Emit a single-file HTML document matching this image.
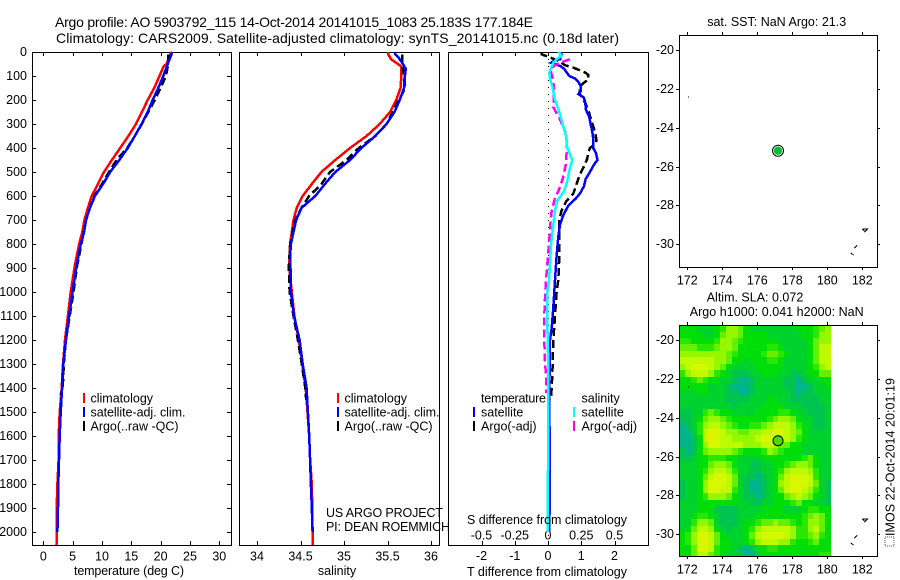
<!DOCTYPE html>
<html>
<head>
<meta charset="utf-8">
<title>Argo profile 5903792_115</title>
<style>
html,body{margin:0;padding:0;background:#fff;}
#fig{display:block;width:900px;height:580px;}
text{font-family:"Liberation Sans",Arial,sans-serif;font-size:12.5px;fill:#000;}
.t{font-size:14px;}
</style>
</head>
<body>
<svg id="fig" xmlns="http://www.w3.org/2000/svg" width="900" height="580" viewBox="0 0 900 580">
  <rect width="900" height="580" fill="#fff"/>
  <g id="marks"></g>

  <text class="t" x="55" y="27" textLength="478" lengthAdjust="spacing">Argo profile: AO 5903792_115 14-Oct-2014 20141015_1083 25.183S 177.184E</text>
  <text class="t" x="56" y="43" textLength="563" lengthAdjust="spacing">Climatology: CARS2009. Satellite-adjusted climatology: synTS_20141015.nc (0.18d later)</text>

  <text x="129" y="575" text-anchor="middle" textLength="110" lengthAdjust="spacing">temperature (deg C)</text>
  <text x="337" y="575" text-anchor="middle">salinity</text>
  <text x="547" y="576" text-anchor="middle" textLength="160" lengthAdjust="spacing">T difference from climatology</text>
  <text x="547" y="524" text-anchor="middle" textLength="160" lengthAdjust="spacing">S difference from climatology</text>

  <g>
    <rect x="83" y="393" width="2" height="10" fill="#f00"/>
    <rect x="83" y="407" width="2" height="10" fill="#00f"/>
    <rect x="83" y="421" width="2" height="10" fill="#000"/>
    <text x="90.5" y="402.5">climatology</text>
    <text x="90.5" y="416.5" textLength="95" lengthAdjust="spacing">satellite-adj. clim.</text>
    <text x="90.5" y="430.5" textLength="88" lengthAdjust="spacing">Argo(..raw -QC)</text>
  </g>
  <g>
    <rect x="337" y="393" width="2" height="10" fill="#f00"/>
    <rect x="337" y="407" width="2" height="10" fill="#00f"/>
    <rect x="337" y="421" width="2" height="10" fill="#000"/>
    <text x="344.5" y="402.5">climatology</text>
    <text x="344.5" y="416.5" textLength="95" lengthAdjust="spacing">satellite-adj. clim.</text>
    <text x="344.5" y="430.5" textLength="88" lengthAdjust="spacing">Argo(..raw -QC)</text>
  </g>
  <g>
    <text x="481" y="402.5" textLength="65" lengthAdjust="spacing">temperature</text>
    <rect x="473" y="407" width="2" height="10" fill="#00f"/>
    <rect x="473" y="421" width="2" height="10" fill="#000"/>
    <text x="481" y="416.5">satellite</text>
    <text x="481" y="430.5">Argo(-adj)</text>
    <text x="581.5" y="402.5">salinity</text>
    <rect x="573" y="407" width="2" height="10" fill="#0ff"/>
    <rect x="573" y="421" width="2" height="10" fill="#f0f"/>
    <text x="581.5" y="416.5">satellite</text>
    <text x="581.5" y="430.5">Argo(-adj)</text>
  </g>

  <text x="326" y="517" textLength="117" lengthAdjust="spacing">US ARGO PROJECT</text>
  <text x="326" y="531" textLength="124" lengthAdjust="spacing">PI: DEAN ROEMMICH</text>

  <text x="776.7" y="26" text-anchor="middle">sat. SST: NaN Argo: 21.3</text>
  <text x="755" y="301.5" text-anchor="middle">Altim. SLA: 0.072</text>
  <text x="776.7" y="316" text-anchor="middle" textLength="174" lengthAdjust="spacing">Argo h1000: 0.041 h2000: NaN</text>

  <rect x="885" y="537" width="9" height="9" fill="none" stroke="#555" stroke-width="1" stroke-dasharray="1 1" shape-rendering="crispEdges"/>
  <text transform="translate(894.5,536) rotate(-90)" textLength="158" lengthAdjust="spacing">IMOS 22-Oct-2014 20:01:19</text>
</svg>

<script>
// ---- depth ticks
const depthTicks = [0,100,200,300,400,500,600,700,800,900,1000,1100,1200,1300,1400,1500,1600,1700,1800,1900,2000];
const tempTicks = [0,5,10,15,20,25,30];
const salTicks = [34,34.5,35,35.5,36];
const salTickLabels = ['34','34.5','35','35.5','36'];
const tDiffTicks = [-2,-1,0,1,2];
const tDiffTickLabels = ['-2','-1','0','1','2'];
const sDiffTicks = [-0.5,-0.25,0,0.25,0.5];
const sDiffTickLabels = ['-0.5','-0.25','0','0.25','0.5'];
const lonTicks = [172,174,176,178,180,182];
const latTicks = [-20,-22,-24,-26,-28,-30];

// ---- temperature panel
const tempClimDepth = [0,50,60,100,150,200,250,300,350,400,450,500,550,600,650,700,750,800,850,900,950,1000,1100,1200,1300,1400,1500,1600,1700,1800,1900,2000,2054];
const tempClim = [21.8,21.0,20.5,19.8,18.9,17.8,16.8,15.8,14.5,13.1,11.7,10.35,9.3,8.25,7.6,7.0,6.65,6.1,5.7,5.3,5.0,4.67,4.2,3.7,3.36,3.13,2.8,2.62,2.6,2.4,2.28,2.28,2.25];
const tempSatDepth = [0,50,100,150,200,250,300,350,400,450,500,550,600,650,700,750,800,850,900,1000,1100,1200,1300,1400,1500,1600,1700,1800,1900,2000];
const tempSat = [22,21.2,20.45,19.6,18.65,17.8,16.75,15.6,14.4,12.95,11.4,10.2,8.8,7.95,7.3,6.95,6.4,6,5.6,5.0,4.4,3.87,3.4,3.2,2.96,2.8,2.68,2.56,2.5,2.4];
const tempArgoDepth = [10,50,100,150,200,250,300,350,400,450,500,550,600,650,700,800,900,1000,1100,1200,1300,1400,1430];
const tempArgo = [21.3,21.3,20.9,20,19,17.9,16.8,15.6,14.3,12.5,11.2,10,8.7,7.95,7.3,6.5,5.7,5.15,4.5,3.85,3.5,3.3,2.95];

// ---- salinity panel
const salClimDepth = [0,10,30,50,60,100,150,200,250,300,350,400,450,500,550,600,650,700,750,800,900,1000,1100,1200,1300,1400,1500,1600,1700,1800,1900,2054];
const salClim = [35.51,35.51,35.54,35.62,35.655,35.66,35.65,35.6,35.53,35.41,35.26,35.07,34.9,34.74,34.63,34.525,34.456,34.42,34.4,34.38,34.37,34.40,34.43,34.48,34.52,34.56,34.58,34.6,34.61,34.63,34.635,34.64];
const salSatDepth = [0,10,20,40,70,100,150,200,250,300,350,400,450,500,550,600,650,700,750,800,850,900,1000,1100,1200,1300,1400,1500,1600,1700,1800,1900,2000];
const salSat = [35.58,35.59,35.62,35.66,35.71,35.70,35.69,35.64,35.58,35.49,35.36,35.2,35.07,34.9,34.78,34.67,34.51,34.45,34.42,34.39,34.38,34.385,34.39,34.425,34.49,34.525,34.57,34.585,34.6,34.61,34.62,34.63,34.64];
const salArgoDepth = [10,50,100,150,200,250,300,350,400,450,500,550,600,650,700,800,900,1000,1100,1200,1300,1400,1450];
const salArgo = [35.67,35.67,35.69,35.705,35.63,35.56,35.49,35.36,35.17,35.03,34.84,34.74,34.6,34.51,34.44,34.38,34.365,34.375,34.42,34.47,34.515,34.555,34.565];

// ---- difference panel
const tSatDepth = [0,10,20,30,35,45,50,58,70,85,100,110,125,140,165,175,190,210,240,270,300,330,360,400,420,450,470,500,530,560,590,610,640,680,720,770,850,950,1000,1100,1150,1200,1300,1400,1500,1700,1900,2000];
const tSat = [.31,.41,.36,.36,.21,.09,.21,.36,.49,.56,.64,.81,.91,.98,.98,.91,1.08,1.12,1.14,1.24,1.28,1.33,1.36,1.36,1.44,1.49,1.38,1.26,1.13,1.08,.96,.84,.61,.46,.36,.31,.26,.21,.19,.14,.11,.06,.05,.04,.04,.06,.05,.03];
const tArgoDepth = [0,10,20,40,55,65,85,95,115,130,145,175,215,250,290,330,370,385,400,420,445,470,510,550,590,620,660,700,780,850,950,1000,1100,1200,1300,1400,1450];
const tArgo = [-.19,-.19,.01,.36,.51,.76,1.11,1.21,1.21,1.06,.96,.96,1.13,1.23,1.31,1.41,1.46,1.41,1.26,1.21,1.18,1.11,.96,.86,.76,.56,.41,.34,.34,.34,.31,.26,.21,.16,.14,.11,.08];
const sSatDepth = [0,15,30,45,60,85,110,150,200,250,300,350,400,450,500,540,580,620,660,720,800,950,1000,1100,1200,1300,1400,1500,2000];
const sSat = [.078,.103,.065,.04,.028,.01,.015,.035,.053,.085,.11,.135,.145,.183,.158,.145,.12,.07,.053,.04,.023,.008,-.005,-.005,-.003,.003,.003,.003,-.003];
const sArgoDepth = [30,45,55,70,85,120,170,230,275,330,370,420,470,520,570,610,660,700,780,850,950,1000,1100,1200,1280,1350,1420];
const sArgo = [.165,.09,.053,.02,.023,.04,.045,.04,.085,.128,.14,.14,.133,.115,.085,.053,.028,.02,.01,0,-.015,-.02,-.028,-.028,-.023,-.015,-.015];

// ---- map data: sea level anomaly class per 1/3 degree cell (north to south)
const slaRows = [
"33322234665322222222333456",
"33332235665333322222233466",
"44333346654333333222223566",
"55544456653333344322223577",
"66666666543333455432223577",
"77777766533233344322223577",
"67888765322223333322223467",
"46777643211122333221123355",
"33454332210012222211012233",
"33333222100012222211001223",
"22233222110012222221011222",
"22222222111122233221111122",
"22222222212222333322211112",
"11224543322223333443221112",
"11235665433333345665322112",
"01246776543344567776432112",
"00247887665566778876532222",
"00137987766667888776432222",
"00136887777666776553322222",
"10135666654333465433322222",
"11233444332222333333345322",
"22233566532211223345665322",
"22234677642211223467776422",
"22235788752110123578887422",
"12236888752100123678887521",
"12236887742100123578876421",
"12234666532110123356765321",
"22233333332211223334533221",
"22233311112222333322234433",
"22344321112223333333345653",
"22466521112334556554346653",
"23577632122346777776446753",
"34688753222357888876445643",
"34689753322346777664334533",
"33588743321013344333333333",
"33577543221002333333333344"
];
const slaPalette = ['#00b48c','#00c350','#00d22d','#00de0a','#28e800','#64f000','#96f800','#befa00','#d7f800','#ebf000'];
const argoLon = 177.184;
const argoLat = -25.183;
const isletLons = [[172.05,172.1],[182.0,182.3,182.15,182.0],[181.55,181.7],[181.35,181.5]];
const isletLats = [[-22.43,-22.43],[-29.2,-29.2,-29.35,-29.2],[-30.2,-30.05],[-30.45,-30.55]];

// ---- axis functions
const NS = 'http://www.w3.org/2000/svg';
const root = document.getElementById('marks');
const yDepth = d => 52 + d * 0.24;
const xTemp = t => 43.3 + t * 5.867;
const xSal = s => 257 + (s - 34) * 87;
const xTDiff = t => 548 + t * 33.25;
const xSDiff = s => 548 + s * 133;
const xLon = lon => 687.3 + (lon - 172) * 17.5;
const yLatTop = lat => 50 + (-20 - lat) * 19.43;
const yLatBot = lat => 340 + (-20 - lat) * 19.43;

function make(tag, attrs, parent) {
  const el = document.createElementNS(NS, tag);
  for (const k in attrs) el.setAttribute(k, attrs[k]);
  (parent || root).appendChild(el);
  return el;
}
function tickLine(x1, y1, x2, y2) {
  const el = make('line', {x1: x1, y1: y1, x2: x2, y2: y2, stroke: '#000', 'stroke-width': 1, 'shape-rendering': 'crispEdges'});
  
  
  return el;
}
function label(x, y, str, anchor) {
  const el = make('text', {x: x, y: y, 'text-anchor': anchor});
  el.textContent = str;
  
  
  return el;
}
function frame(x, y, w, h, name) {
  const el = make('rect', {x: x + 0.5, y: y + 0.5, width: w, height: h, fill: 'none', stroke: '#000', 'stroke-width': 1, 'shape-rendering': 'crispEdges'});
  
  
  return el;
}
function profile(xs, depths, xFn, color, dash, name) {
  const pts = xs.map((v, i) => xFn(v).toFixed(1) + ',' + yDepth(depths[i]).toFixed(1)).join(' ');
  const el = make('polyline', {points: pts, fill: 'none', stroke: color, 'stroke-width': 2.5, 'shape-rendering': 'crispEdges'});
  if (dash) el.setAttribute('stroke-dasharray', dash);
  
  
  return el;
}

// ---- profile panels
const panelTop = 52, panelBottom = 545;
frame(32, 52, 199, 493, 'temperature-panel-frame');
frame(239, 52, 200, 493, 'salinity-panel-frame');
frame(448, 52, 200, 493, 'difference-panel-frame');

depthTicks.forEach(d => {
  const y = Math.round(yDepth(d)) + 0.5;
  tickLine(32, y, 36, y);
  tickLine(227, y, 231, y);
  label(27, y + 3.7, String(d), 'end');
});
tempTicks.forEach(t => {
  const x = Math.round(xTemp(t)) + 0.5;
  tickLine(x, panelTop, x, panelTop + 4);
  tickLine(x, panelBottom - 4, x, panelBottom);
  label(xTemp(t), 560.5, String(t), 'middle');
});
salTicks.forEach((s, i) => {
  const x = Math.round(xSal(s)) + 0.5;
  tickLine(x, panelTop, x, panelTop + 4);
  tickLine(x, panelBottom - 4, x, panelBottom);
  label(xSal(s), 560.5, salTickLabels[i], 'middle');
});
tDiffTicks.forEach((t, i) => {
  const x = Math.round(xTDiff(t)) + 0.5;
  tickLine(x, panelTop, x, panelTop + 4);
  tickLine(x, panelBottom - 4, x, panelBottom);
  label(xTDiff(t), 560, tDiffTickLabels[i], 'middle');
});
sDiffTicks.forEach((s, i) => {
  label(xSDiff(s), 539.5, sDiffTickLabels[i], 'middle');
});

profile(tempClim, tempClimDepth, xTemp, '#f00', null, 'temperature-climatology-line');
profile(tempArgo, tempArgoDepth, xTemp, '#000', '8 4', 'temperature-argo-line');
profile(tempSat, tempSatDepth, xTemp, '#00f', null, 'temperature-satellite-line');

profile(salClim, salClimDepth, xSal, '#f00', null, 'salinity-climatology-line');
profile(salArgo, salArgoDepth, xSal, '#000', '8 4', 'salinity-argo-line');
profile(salSat, salSatDepth, xSal, '#00f', null, 'salinity-satellite-line');

const zeroLine = make('line', {x1: xTDiff(0) + 0.5, y1: panelTop, x2: xTDiff(0) + 0.5, y2: panelBottom, stroke: '#000', 'stroke-width': 1, 'stroke-dasharray': '1 6', 'shape-rendering': 'crispEdges'});



profile(tArgo, tArgoDepth, xTDiff, '#000', '8 4', 't-difference-argo-line');
profile(tSat, tSatDepth, xTDiff, '#00f', null, 't-difference-satellite-line');
profile(sArgo, sArgoDepth, xSDiff, '#f0f', '8 4', 's-difference-argo-line');
profile(sSat, sSatDepth, xSDiff, '#0ff', null, 's-difference-satellite-line');

// ---- heatmap
const gridLon0 = 171.54;
const gridLat0 = -19.23;
slaRows.forEach((row, r) => {
  row.split('').forEach((c, col) => {
    const lon = gridLon0 + col / 3;
    const lat = gridLat0 - r / 3;
    const x0 = Math.round(xLon(lon));
    const x1 = Math.round(xLon(lon + 1 / 3));
    const y0 = Math.round(yLatBot(lat));
    const y1 = Math.min(556, Math.round(yLatBot(lat - 1 / 3)));
    const cell = make('rect', {x: x0, y: y0, width: x1 - x0, height: y1 - y0, fill: slaPalette[Number(c)], 'shape-rendering': 'crispEdges'});
    
    
  });
});

// ---- maps
function drawMap(yFn, top, bottom, labelY, prefix) {
  lonTicks.forEach(lon => {
    const x = Math.round(xLon(lon)) + 0.5;
    tickLine(x, top - 3, x, top);
    tickLine(x, bottom, x, bottom + 3);
    label(xLon(lon), labelY, String(lon), 'middle');
  });
  latTicks.forEach(lat => {
    const y = Math.round(yFn(lat)) + 0.5;
    tickLine(676, y, 679, y);
    tickLine(877, y, 880, y);
    label(674, y + 3.7, String(lat), 'end');
  });
  isletLons.forEach((lons, k) => {
    const pts = lons.map((lon, i) => xLon(lon).toFixed(1) + ',' + yFn(isletLats[k][i]).toFixed(1)).join(' ');
    const isl = make('polyline', {points: pts, fill: 'none', stroke: '#000', 'stroke-width': 1, 'shape-rendering': 'crispEdges'});
    
    
  });
  frame(679, top, 198, bottom - top, prefix + '-map-frame');
}
drawMap(yLatTop, 35, 267, 284.5, 'sst');
drawMap(yLatBot, 325, 556, 573.5, 'sla');

const topHalo = make('circle', {cx: xLon(argoLon), cy: yLatTop(argoLat), r: 5.5, fill: '#fff', stroke: '#000', 'stroke-width': 1});


const topDot = make('circle', {cx: xLon(argoLon), cy: yLatTop(argoLat), r: 4.2, fill: '#00be3c'});


const botDot = make('circle', {cx: xLon(argoLon), cy: yLatBot(argoLat), r: 5, fill: '#46dc00', stroke: '#000', 'stroke-width': 1});


</script>
</body>
</html>
